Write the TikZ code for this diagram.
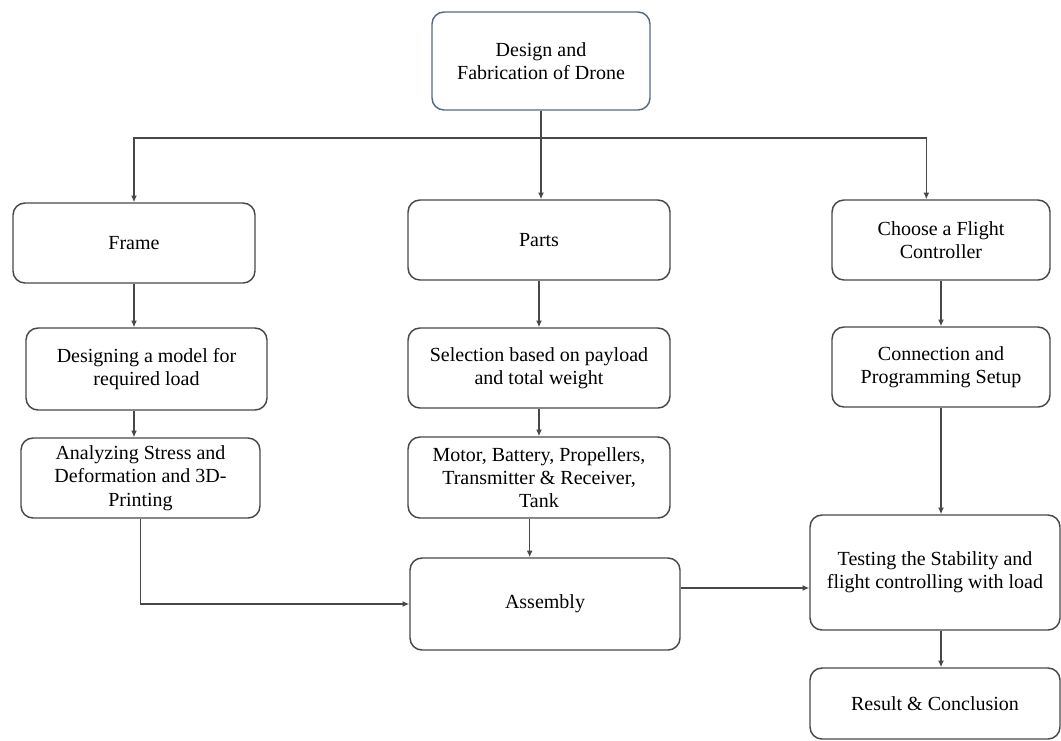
\documentclass[tikz,border=0pt]{standalone}
\usepackage{fontspec}
\setmainfont{Liberation Serif}
\usetikzlibrary{arrows.meta}
\definecolor{linegray}{RGB}{72,72,72}
\definecolor{topblue}{RGB}{88,104,134}

\begin{document}
\begin{tikzpicture}[x=0.75pt,y=-0.75pt,
     box/.style={draw=linegray,line width=1.1pt,rectangle,rounded corners=9pt,
                 align=center,inner sep=2pt,font=\fontsize{15}{17.5}\selectfont},
     flow/.style={draw=linegray,line width=1.1pt,-{Latex[length=5pt,width=4.5pt]}},
     link/.style={draw=linegray,line width=1.1pt}
     ]
   \useasboundingbox (0,0) rectangle (1061,740);

   % top box
   \node[box,draw=topblue,minimum width=218*0.75pt,minimum height=98*0.75pt]
      (drone) at (541,61) {Design and\\Fabrication of Drone};

   % all other boxes: name/x/y/width/height/text, in pixels of the sketch
   \foreach \name/\x/\y/\w/\h/\txt
      in {frame/134/243/242/80/{Frame},
          parts/539/240/262/80/{Parts},
          choose/941/240/218/80/{Choose a Flight\\Controller},
          design/146.5/369/241/82/{Designing a model for\\required load},
          select/539/368/262/80/{Selection based on payload\\and total weight},
          connect/941/367/218/80/{Connection and\\Programming Setup},
          analyze/140.5/478/239/80/{Analyzing Stress and\\Deformation and 3D-\\Printing},
          motor/539/477.5/262/81/{Motor, Battery, Propellers,\\Transmitter \& Receiver,\\Tank},
          assembly/545/604/270/92/{Assembly},
          test/935/572.5/250/115/{Testing the Stability and\\flight controlling with load},
          result/935/703.5/250/71/{Result \& Conclusion}}
   {
     \node[box,minimum width=\w*0.75pt,minimum height=\h*0.75pt] (\name) at (\x,\y) {\txt};
   }

   % splitting line under the top box
   \coordinate (split) at (541,138);
   \draw[link] (drone.south) -- (split);
   \draw[flow] (split) -| (frame.north);
   \draw[flow] (split) -- (split |- parts.north);
   \draw[flow] (split) -| ([xshift=-11pt]choose.north);

   % left column
   \draw[flow] (frame.south) -- (frame.south |- design.north);
   \draw[flow] (frame.south |- design.south) -- (frame.south |- analyze.north);
   \draw[flow] (analyze.south) |- (assembly.west);

   % middle column
   \draw[flow] (parts.south) -- (parts.south |- select.north);
   \draw[flow] (select.south) -- (select.south |- motor.north);
   \draw[flow] ([xshift=-7pt]motor.south) -- ([xshift=-7pt]motor.south |- assembly.north);
   \draw[flow] ([yshift=12pt]assembly.east) -- ([yshift=12pt]assembly.east -| test.west);

   % right column
   \draw[flow] (choose.south) -- (choose.south |- connect.north);
   \draw[flow] (connect.south) -- (connect.south |- test.north);
   \draw[flow] (connect.south |- test.south) -- (connect.south |- result.north);
 \end{tikzpicture}
\end{document}
